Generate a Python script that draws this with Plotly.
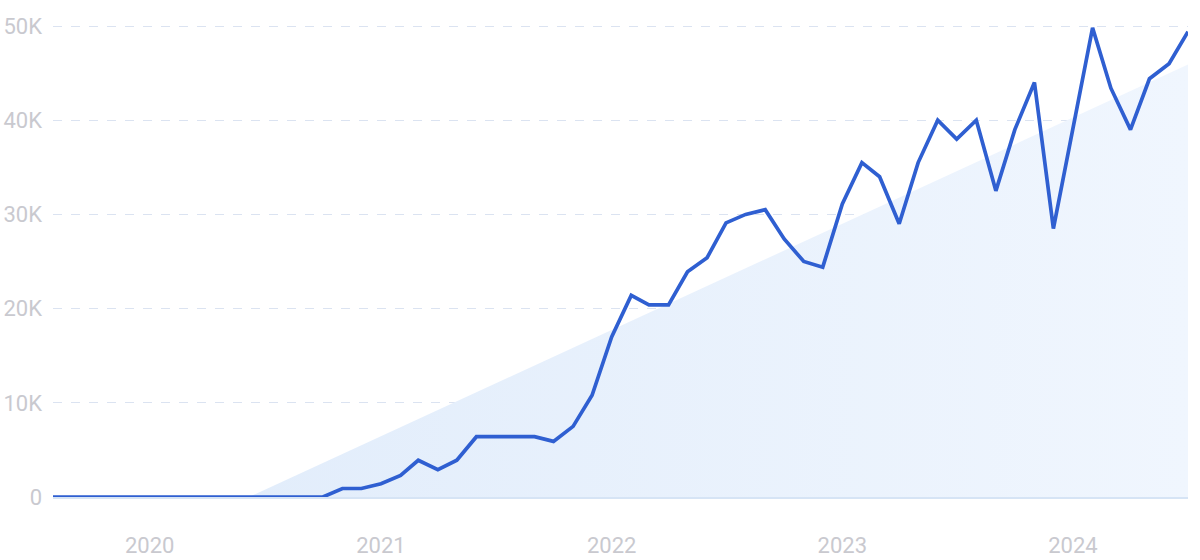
import plotly.graph_objects as go
import pandas as pd

# Monthly values, Aug 2019 .. Jul 2024
months = pd.date_range("2019-08-01", "2024-07-01", freq="MS").strftime("%Y-%m-%d").tolist()
values = [
    0, 0, 0, 0, 0,                      # 2019 Aug-Dec
    0, 0, 0, 0, 0, 0, 0, 0, 0, 0, 900, 900,   # 2020
    1400, 2300, 3900, 2900, 3900, 6400, 6400, 6400, 6400, 5900, 7500, 10800,  # 2021
    17000, 21400, 20400, 20400, 23900, 25400, 29100, 30000, 30500, 27400, 25000, 24400,  # 2022
    31100, 35500, 34000, 29000, 35500, 40000, 38000, 40000, 32500, 39000, 44000, 28500,  # 2023
    39300, 49800, 43400, 39000, 44400, 46000, 49400,  # 2024
]

# Trend band (start/end)
trend_dates = ["2020-06-06", "2024-07-01"]
trend_values = [0, 45900]

y_tickvals = [0, 10000, 20000, 30000, 40000, 50000]
y_ticktext = ["0", "10K", "20K", "30K", "40K", "50K"]
x_tickvals = ["2020-01-01", "2021-01-01", "2022-01-01", "2023-01-01", "2024-01-01"]
x_ticktext = ["2020", "2021", "2022", "2023", "2024"]

fig = go.Figure()
fig.add_trace(go.Scatter(
    x=trend_dates, y=trend_values, mode="lines", line=dict(width=0),
    fill="tozeroy",
    fillgradient=dict(type="horizontal",
                      colorscale=[[0, "rgb(226,237,251)"], [1, "rgb(240,246,254)"]]),
    hoverinfo="skip", showlegend=False,
))
fig.add_trace(go.Scatter(
    x=months, y=values, mode="lines",
    line=dict(color="#2f5fd1", width=3.7),
    showlegend=False,
))

font_color = "#c9c9cf"
fig.update_layout(
    width=1200, height=560,
    margin=dict(l=53, r=12, t=20, b=63),
    paper_bgcolor="white", plot_bgcolor="white",
    font=dict(family="Roboto, Inter, sans-serif", size=22, color=font_color),
)
fig.update_xaxes(
    range=[months[0], months[-1]],
    tickvals=x_tickvals, ticktext=x_ticktext,
    showgrid=False, zeroline=False, automargin=False,
    showline=True, linecolor="#d6e4f5", linewidth=1.5,
    ticks="", ticklabelstandoff=28,
    tickfont=dict(size=22, color=font_color),
)
fig.update_yaxes(
    range=[0, 50637],
    tickvals=y_tickvals, ticktext=y_ticktext,
    showgrid=True, gridcolor="#dbe3f1", griddash="dash", gridwidth=1,
    zeroline=False, showline=False, ticks="", automargin=False,
    ticklabelstandoff=10,
    tickfont=dict(size=22, color=font_color),
)
fig.write_html(
    "out.html",
    config={"displayModeBar": False},
    post_script="document.body.style.margin='0';document.body.style.overflow='hidden';",
)
